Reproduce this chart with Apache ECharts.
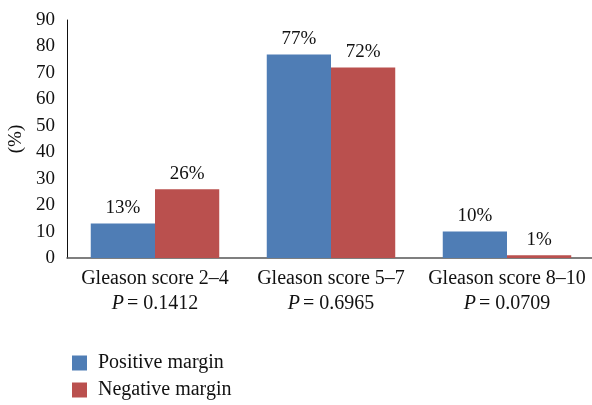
<!DOCTYPE html>
<html><head><meta charset="utf-8">
<script src="https://cdn.jsdelivr.net/npm/echarts@6/dist/echarts.min.js"></script>
<style>html,body{margin:0;padding:0;background:#fff}#c{width:592px;height:405px}</style>
</head><body><div id="c"></div>
<script>
var categories = ['Gleason score 2–4', 'Gleason score 5–7', 'Gleason score 8–10'];
var pValues = ['0.1412', '0.6965', '0.0709'];
var positiveMargin = [13, 77, 10];
var negativeMargin = [26, 72, 1];
var yTicks = [0, 10, 20, 30, 40, 50, 60, 70, 80, 90];

var FONT = '"Liberation Serif", "DejaVu Serif", serif';
var chart = echarts.init(document.getElementById('c'));
var lbl = {show: true, position: 'top', distance: 6, color: '#111', fontFamily: FONT, fontSize: 19, formatter: function(p){return p.value + '%';}};
function legendAt(name, top) {
  return {
    orient: 'vertical', left: 67, top: top, itemWidth: 15, itemHeight: 15,
    icon: 'rect',
    textStyle: {fontFamily: FONT, fontSize: 20, color: '#111', padding: [0, 0, 0, 6]},
    data: [name]
  };
}
chart.setOption({
  animation: false,
  textStyle: {fontFamily: FONT},
  grid: {left: 67, right: -3, top: 20, bottom: 147, outerBoundsMode: 'none', containLabel: false},
  legend: [legendAt('Positive margin', 348), legendAt('Negative margin', 375)],
  xAxis: {
    type: 'category', data: categories,
    axisLine: {lineStyle: {color: '#555', width: 1.5}},
    axisTick: {show: false},
    axisLabel: {
      margin: 8, lineHeight: 25, interval: 0,
      formatter: function(v, i){ return '{a|' + v + '}\n{i|P} {a|= ' + pValues[i] + '}'; },
      rich: {a: {fontFamily: FONT, fontSize: 20, color: '#111', lineHeight: 25}, i: {fontFamily: FONT, fontSize: 20, fontStyle: 'italic', color: '#111', lineHeight: 25}}
    }
  },
  yAxis: {
    type: 'value', min: 0, max: 90, interval: 10,
    name: '(%)', nameLocation: 'middle', nameGap: 40, nameRotate: 90,
    nameTextStyle: {fontFamily: FONT, fontSize: 19, color: '#111'},
    axisLine: {show: true, lineStyle: {color: '#111', width: 1}},
    axisTick: {show: false},
    splitLine: {show: false},
    axisLabel: {fontFamily: FONT, fontSize: 19, color: '#111', margin: 12,
      formatter: function(v){ return yTicks.indexOf(v) >= 0 ? String(v) : ''; }}
  },
  series: [
    {name: 'Positive margin', type: 'bar', data: positiveMargin, barGap: '0%', barCategoryGap: '27%',
     itemStyle: {color: '#4F7DB5'}, label: lbl},
    {name: 'Negative margin', type: 'bar', data: negativeMargin,
     itemStyle: {color: '#BA504E'}, label: lbl}
  ]
});
</script></body></html>
